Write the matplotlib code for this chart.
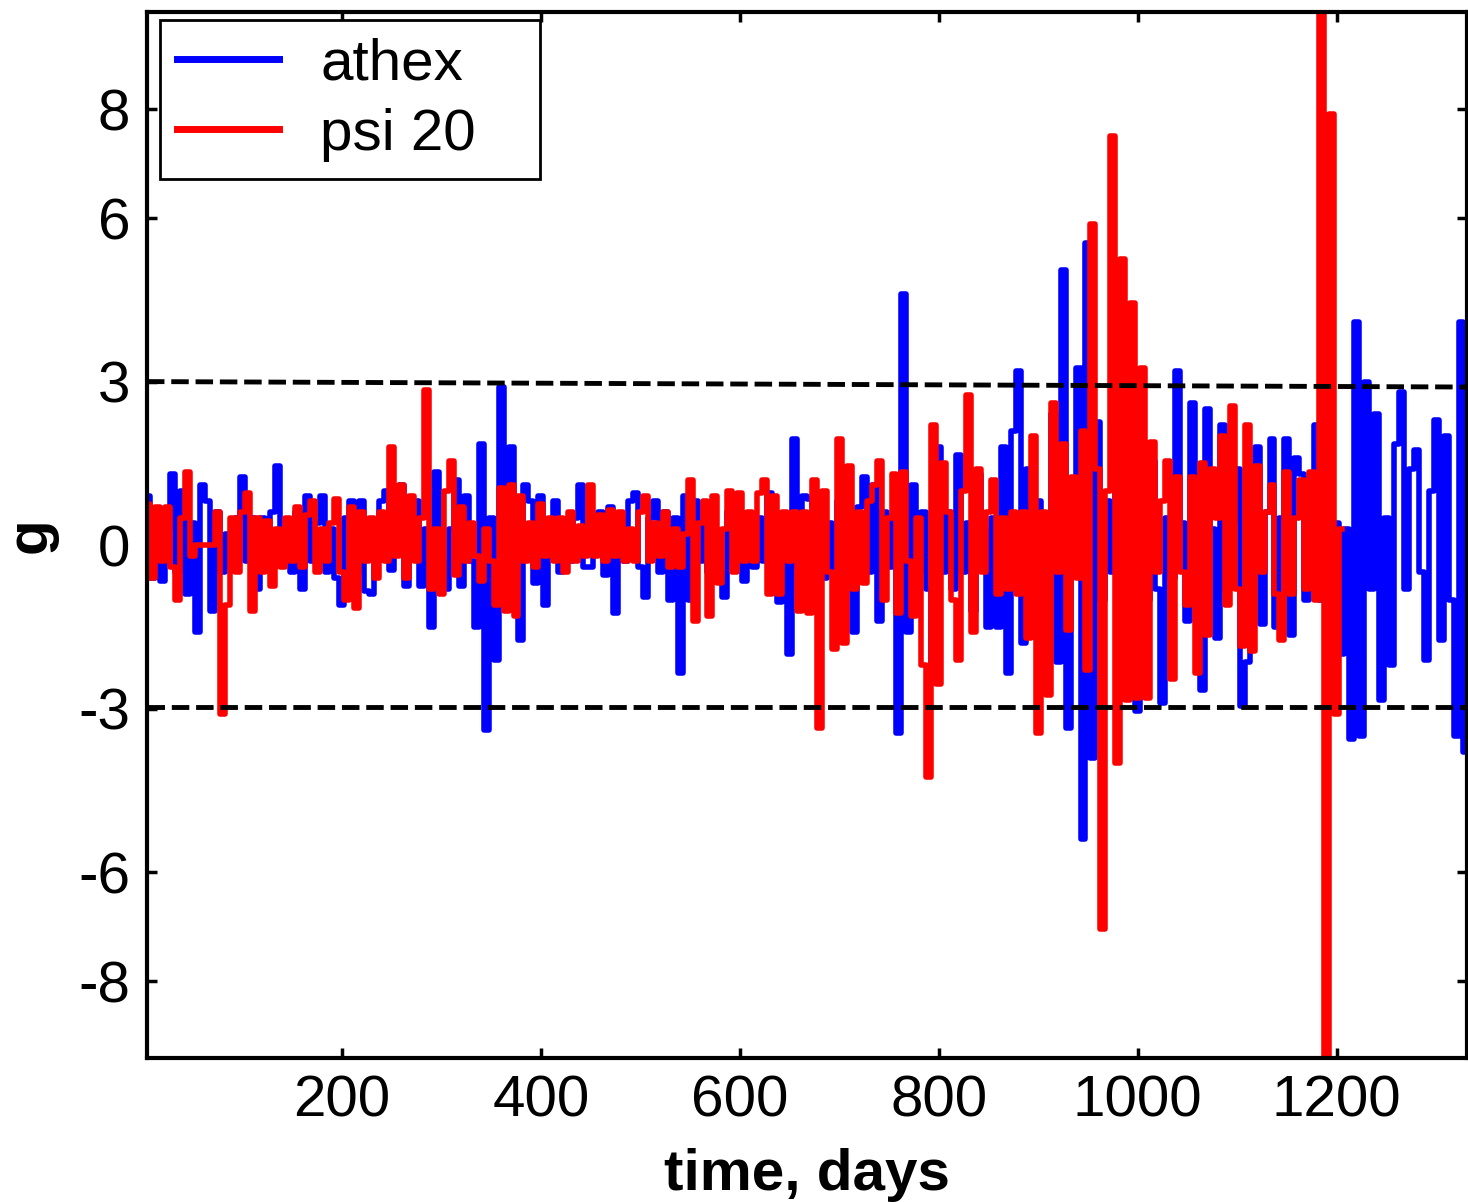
import numpy as np
import matplotlib
matplotlib.use('Agg')
import matplotlib.pyplot as plt

plt.rcParams['font.family'] = ['Liberation Sans', 'DejaVu Sans']
plt.rcParams['axes.unicode_minus'] = False

athex = [
    0.9, -0.6, 0.5, -0.65, 0.3, 1.3, -0.5, 1.0, -0.9, 0.4,
    -1.6, 1.1, 0.8, -1.2, 0.6, -0.5, 0.2, -0.4, 0.5, 1.25,
    -0.3, 0.5, -0.8, 0.5, -0.4, 0.6, 1.45, -0.3, 0.2, -0.5,
    0.6, -0.8, 0.9, -0.3, 0.4, 0.9, -0.5, 0.3, -0.6, -1.1,
    0.5, 0.8, -0.5, 0.8, -0.85,
    -0.9, 0.4, 0.8, 1.0, -0.45, 0.3, 1.1, -0.75, 0.4, 0.8,
    -0.75, 0.3, -1.5, 1.35, -0.3, -0.8, 0.3, 1.2, -0.75, 0.9,
    -0.3, -1.5, 1.85, -3.4, 0.5, -2.1, 2.9, -0.5, 1.8, -0.4,
    -1.75, 1.1, 0.8, -0.7, 0.9, -1.1, 0.2, 0.8, -0.5, 0.3,
    -0.3, 0.5, 1.1, -0.4,
    -0.4, 0.3, 0.6, -0.55, 0.7, -1.25, 0.5, -0.3, 0.8, 0.95,
    -0.4, -0.95, 0.5, 0.8, -0.5, 0.6, -1.0, 0.5, -2.35, 0.9,
    -1.0, 0.8, -0.3, 0.4, -0.5, 0.3, -0.5, -0.95, 0.6, -0.3,
    0.4, -0.65, 0.3, -0.4, 0.5, -0.3, 0.95, -0.7, -1.05, 0.4,
    -2.0, 1.95, -0.4, 0.9,
    0.85, -0.5, 0.3, -0.6, 0.4, -0.5, 0.8, -0.6, 0.5, -1.6,
    0.7, 1.25, -0.5, 1.1, -1.4, 0.6, -0.4, 0.5, -3.45, 4.6,
    -1.6, 1.1, -0.5, 0.6, -0.8, -2.15, 1.8, -0.5, 0.6, -0.8,
    1.65, -0.5, 0.4, -1.2, 1.3, 0.3, -1.5, 0.5, -1.5, 1.8,
    -2.35, 2.1, 3.2, -1.8,
    1.4, -0.6, 0.8, -0.8, 0.5, 2.4, -2.15, 5.05, -3.35, 1.0,
    3.25, -5.4, 5.55, -3.9, 2.25, -1.0, 0.8, -0.5, 1.2, -0.6,
    1.85, 1.8, -3.05, 0.5, -1.0, 1.55, -0.8, -2.9, 0.5, -0.6,
    3.2, 0.4, -1.4, 2.6, 0.6, -2.65, 2.5, 0.3, -1.7, 2.2,
    -0.8, 0.4, 1.4, -2.95,
    -2.15, 0.5, 1.8, -1.45, 0.6, 1.95, -1.5, 0.5, 1.95, -1.65,
    1.6, 1.3, -1.0, 0.5, 2.2, -1.0, 0.3, -0.5, 0.4, -2.0,
    0.3, -3.55, 4.1, -3.5, 3.0, -0.8, 2.4, -2.85, 0.5, -2.2,
    1.85, 2.8, -0.8, 1.4, 1.75, -0.5, -2.1, 1.0, 2.3, -1.75,
    2.0, -1.0, -3.5, 4.1, -3.8,
]

# psi 20, sampled every 5 days
psi20 = [
    0.75, -0.6, 0.7, -0.3, 0.7, -0.4, -1.0, 0.5, 1.35, -0.2,
    0.0, 0.0, 0.0, 0.0, 0.6, -3.1, -1.1, 0.5, -0.5, 0.6,
    0.95, -1.2, 0.5, -0.5, 0.45, -0.75, 0.3, -0.4, 0.5, -0.3,
    0.7, -0.4, 0.55, 0.8, -0.5, 0.3, -0.3, 0.4, 0.85, -0.5,
    -1.0, 0.7, -1.15, 0.6, -0.3,
    0.5, -0.6, 0.6, -0.3, 1.8, -0.2, 1.1, -0.6, 0.9, -0.3,
    0.5, 2.85, -0.8, 0.3, -0.9, 1.0, 1.55, -0.55, 0.7, -0.3,
    0.4, -0.2, -0.65, 0.3, -0.3, -1.1, 1.05, -1.2, 1.1, -1.3,
    0.9, -0.3, 0.4, -0.4, 0.75, -0.2, 0.5, -0.3, 0.5, -0.5,
    0.6, -0.3, 0.35, -0.2,
    1.1, -0.2, 0.55, -0.3, 0.65, -0.2, 0.6, -0.3, 0.3, -0.3,
    0.6, 0.9, -0.3, 0.4, -0.2, 0.6, -0.4, 0.3, -0.4, 0.2,
    1.2, -1.4, 0.4, 0.8, -1.3, 0.9, -0.7, 0.3, 1.0, -0.5,
    0.95, -0.3, 0.6, -0.3, 0.95, 1.2, -0.9, 0.9, -0.9, 0.6,
    -0.3, 0.6, -1.2, 0.6,
    -1.25, 1.2, -3.35, 1.0, -0.5, -1.9, 1.95, -1.8, 1.45, -0.8,
    0.6, -0.7, 0.8, 1.1, 1.55, -1.0, 0.5, 1.3, -1.25, 1.35,
    -0.3, -1.3, 0.5, -2.2, -4.25, 2.2, -2.55, 1.5, 0.6, -1.0,
    -2.1, 1.0, 2.75, -1.6, 1.4, -0.5, 0.6, 1.2, -0.9, 0.5,
    -0.8, 0.6, -0.9, 0.6,
    -1.7, 2.0, -3.45, 0.6, -2.75, 2.6, -0.5, 1.85, -1.55, 1.25,
    -0.6, 2.1, -2.3, 5.9, 1.4, -7.05, 1.0, 7.5, -4.0, 5.25,
    -2.85, 4.45, -2.8, 3.25, -2.8, 1.9, -0.5, 0.8, 1.55, -2.45,
    1.25, -0.5, -1.1, 1.25, -2.35, 1.5, -1.65, 1.4, 0.5, 2.0,
    -1.1, 2.55, -0.8, -1.85,
    2.2, -1.95, 1.45, -0.5, 0.6, 1.1, -0.9, -1.75, 1.35, -0.9,
    0.5, 1.2, -0.8, 1.35, -1.0, 9.9, -9.5, 7.9, -3.1, 0.3,
]

days_athex = np.arange(1, len(athex) + 1) * 5
days_psi = np.arange(1, len(psi20) + 1) * 5

# +/- 3 threshold lines
band_x = [4, 1331]
upper = [3.0, 2.9]
lower = [-2.97, -2.97]

fig = plt.figure(figsize=(14.68, 12.02), dpi=100)
ax = fig.add_axes([0.1001, 0.1198, 0.8992, 0.8702])

ax.plot(days_athex, athex, color='#0000ff', lw=4, drawstyle='steps-mid',
        label='athex')
ax.plot(days_psi, psi20, color='#ff0000', lw=4, drawstyle='steps-mid',
        label='psi 20')
ax.plot(band_x, upper, color='black', lw=3.5, ls=(0, (3.6, 1.4)))
ax.plot(band_x, lower, color='black', lw=3.5, ls=(0, (3.6, 1.4)))

ax.set_xlim(4, 1331)
ax.set_ylim(-9.41, 9.78)
ax.set_xticks([200, 400, 600, 800, 1000, 1200])
ax.set_yticks([-8, -6, -3, 0, 3, 6, 8])
ax.tick_params(direction='in', length=7, width=2.5, labelsize=42,
               top=True, right=True, pad=12)
for s in ax.spines.values():
    s.set_linewidth(3)

ax.set_xlabel('time, days', fontsize=42, fontweight='bold', labelpad=14)
ax.set_ylabel('g', fontsize=42, fontweight='bold')
ax.yaxis.set_label_coords(-0.068, 0.5)

leg = ax.legend(loc='upper left',
                bbox_to_anchor=(0.0098, 0.9924, 0.288, 0.0),
                mode='expand', borderaxespad=0, fontsize=42,
                handlelength=1.75, handletextpad=0.7, borderpad=0.3,
                labelspacing=0.28, fancybox=False, framealpha=1,
                edgecolor='black')
leg.get_frame().set_linewidth(2)
for h in leg.get_lines():
    h.set_linewidth(5)

fig.savefig('out.png', dpi=100)
